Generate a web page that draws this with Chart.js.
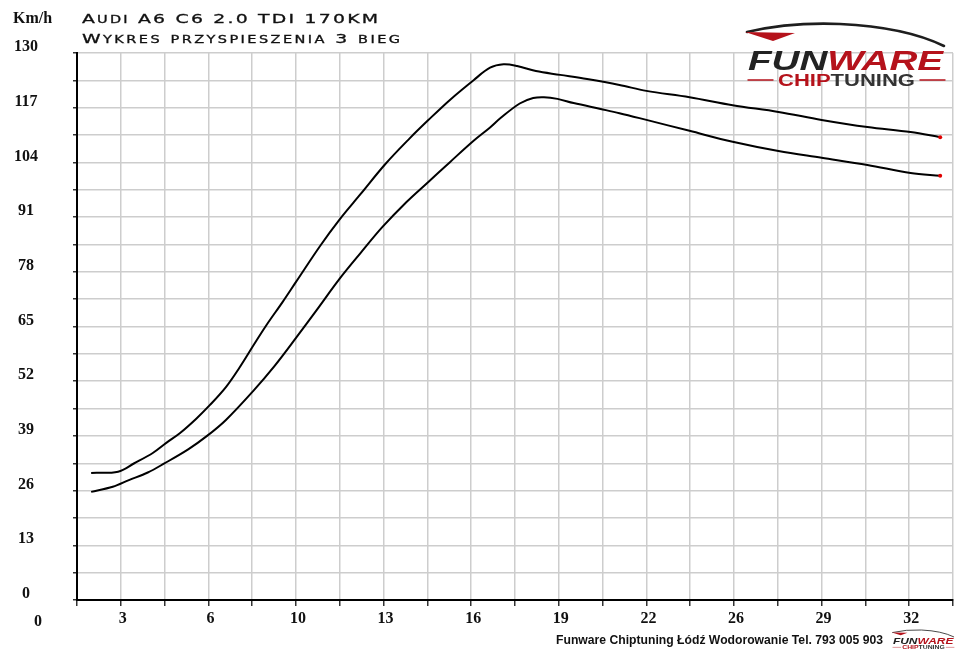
<!DOCTYPE html>
<html>
<head>
<meta charset="utf-8">
<script src="https://cdn.jsdelivr.net/npm/chart.js@4.4.1/dist/chart.umd.min.js"></script>
<style>
html, body { margin: 0; padding: 0; background: #fff; }
#wrap { width: 960px; height: 654px; }
</style>
</head>
<body>
<div id="wrap"><canvas id="chart" width="960" height="654"></canvas></div>
<script>
// Audi A6 C6 2.0 TDI 170KM - acceleration chart, 3rd gear

// Upper curve (after tuning): time [s] / speed [km/h]
const tunedTime = [1.9, 2.9, 3.5, 4.2, 4.7, 5.2, 5.8, 6.3, 6.9, 7.4, 7.9, 8.4, 9.0, 9.5, 10.4, 11.1, 11.9, 12.8, 13.7, 14.4, 15.2, 16.1, 16.7, 17.2, 17.7, 18.4, 19.3, 20.3, 21.5, 22.5, 24.1, 25.7, 27.4, 29.0, 30.7, 32.3, 33.4];
const tunedSpeed = [30.2, 30.5, 32.5, 35.0, 37.4, 39.7, 43.1, 46.3, 50.6, 55.2, 60.3, 65.3, 70.8, 75.6, 84.2, 90.3, 96.5, 103.5, 109.6, 114.0, 118.8, 123.6, 126.5, 127.3, 126.9, 125.7, 124.8, 123.8, 122.4, 121.0, 119.5, 117.6, 116.0, 114.1, 112.4, 111.2, 110.0];

// Lower curve (stock)
const stockTime = [1.9, 2.7, 3.3, 4.0, 4.6, 5.5, 6.2, 6.9, 7.9, 8.7, 9.5, 10.3, 11.1, 11.9, 12.7, 13.6, 14.4, 15.2, 16.1, 16.7, 17.1, 17.8, 18.3, 18.7, 19.2, 19.8, 20.8, 21.5, 22.5, 24.1, 25.7, 27.4, 29.0, 30.7, 32.3, 33.4];
const stockSpeed = [25.7, 26.9, 28.5, 30.3, 32.4, 35.8, 39.0, 42.8, 49.6, 55.6, 62.3, 69.2, 76.2, 82.5, 88.6, 94.6, 99.3, 104.0, 109.2, 112.3, 114.6, 118.0, 119.3, 119.5, 119.1, 118.1, 116.7, 115.7, 114.1, 111.5, 108.9, 106.7, 105.1, 103.4, 101.5, 100.8];

// Axis labels
const xTickLabels = ['3', '6', '10', '13', '16', '19', '22', '26', '29', '32'];
const yTickLabels = ['0', '13', '26', '39', '52', '65', '78', '91', '104', '117', '130'];
const xOriginLabel = '0';
const yUnitLabel = 'Km/h';

// x axis: 20 grid columns, a label on every second line
const X_START = 1.375;
const X_STEP = 1.625;
const X_LINES = 20;

const titleLine1 = 'Audi A6 C6 2.0 TDI 170KM';
const titleLine2 = 'Wykres przyspieszenia 3 bieg';
const footerText = 'Funware Chiptuning Łódź Wodorowanie Tel. 793 005 903';

const LABEL_FONT = '"Liberation Serif", "Times New Roman", serif';
const RED = '#b5121b';

// Small caps text, letters widened, stretched to a given width
function drawSmallCaps(ctx, text, x, baseline, width, bigSize, smallSize) {
    const stretch = 1.45;
    const parts = [...text].map(ch => {
        const small = ch !== ch.toUpperCase();
        return { ch: ch.toUpperCase(), font: (small ? smallSize : bigSize) + 'px "DejaVu Sans"' };
    });
    let total = 0;
    parts.forEach(p => {
        ctx.font = p.font;
        p.w = ctx.measureText(p.ch).width * stretch;
        total += p.w;
    });
    const gap = (width - total) / (parts.length - 1);
    let cx = x;
    ctx.strokeStyle = ctx.fillStyle;
    ctx.lineWidth = 0.3;
    parts.forEach(p => {
        ctx.font = p.font;
        ctx.save();
        ctx.translate(cx, baseline);
        ctx.scale(stretch, 1);
        ctx.fillText(p.ch, 0, 0);
        ctx.strokeText(p.ch, 0, 0);
        ctx.restore();
        cx += p.w + gap;
    });
}

// Two-colour word squeezed to a width (used for the logo)
function drawTwoTone(ctx, first, second, x, baseline, width, colors) {
    const w1 = ctx.measureText(first).width;
    const w = ctx.measureText(first + second).width;
    ctx.save();
    ctx.translate(x, baseline);
    ctx.scale(width / w, 1);
    ctx.fillStyle = colors[0];
    ctx.fillText(first, 0, 0);
    ctx.fillStyle = colors[1];
    ctx.fillText(second, w1, 0);
    ctx.restore();
}

function drawLogo(ctx, x, y, s) {
    // x, y = top-left, s = scale (1 = big logo)
    ctx.save();
    ctx.translate(x, y);
    ctx.scale(s, s);

    // car silhouette
    ctx.strokeStyle = '#1e1e1e';
    ctx.lineWidth = 2.6;
    ctx.lineCap = 'round';
    ctx.beginPath();
    ctx.moveTo(2, 8);
    ctx.quadraticCurveTo(45, -2, 95, 0);
    ctx.quadraticCurveTo(160, 3, 199, 22);
    ctx.stroke();
    ctx.fillStyle = RED;
    ctx.beginPath();
    ctx.moveTo(0, 8);
    ctx.lineTo(50, 9);
    ctx.lineTo(28, 17);
    ctx.closePath();
    ctx.fill();

    // FUNWARE
    ctx.font = 'italic bold 28px "Liberation Sans", Arial, sans-serif';
    ctx.textBaseline = 'alphabetic';
    drawTwoTone(ctx, 'FUN', 'WARE', 3, 46, 195, ['#222222', RED]);

    // CHIPTUNING with side lines
    ctx.font = 'bold 16px "Liberation Sans", Arial, sans-serif';
    drawTwoTone(ctx, 'CHIP', 'TUNING', 33, 62, 137, [RED, '#333333']);
    ctx.strokeStyle = RED;
    ctx.lineWidth = 1.4;
    ctx.beginPath();
    ctx.moveTo(3, 56); ctx.lineTo(28, 56);
    ctx.moveTo(175, 56); ctx.lineTo(200, 56);
    ctx.stroke();
    ctx.restore();
}

const decorPlugin = {
    id: 'decor',
    afterDraw(chart) {
        const ctx = chart.ctx;
        ctx.save();
        ctx.fillStyle = '#111';
        ctx.textBaseline = 'alphabetic';

        // unit label
        ctx.font = 'bold 16px ' + LABEL_FONT;
        ctx.textAlign = 'left';
        ctx.fillText(yUnitLabel, 13, 23);

        // origin label on the x axis
        ctx.textAlign = 'center';
        ctx.fillText(xOriginLabel, 38, 626);

        // title
        ctx.textAlign = 'left';
        ctx.fillStyle = '#111';
        drawSmallCaps(ctx, titleLine1, 82, 23, 296, 13, 10);
        drawSmallCaps(ctx, titleLine2, 82, 43, 318, 13, 10);

        // footer
        ctx.font = 'bold 12px "Liberation Sans", Arial, sans-serif';
        const fw = ctx.measureText(footerText).width;
        ctx.save();
        ctx.translate(556, 644);
        ctx.scale(327 / fw, 1);
        ctx.fillStyle = '#111';
        ctx.fillText(footerText, 0, 0);
        ctx.restore();

        ctx.restore();

        drawLogo(ctx, 745, 24, 1);
        drawLogo(ctx, 892, 630, 0.31);
    }
};

function makeSeries(times, speeds) {
    return times.map((t, i) => ({ x: t, y: speeds[i] }));
}

function lineDataset(label, times, speeds) {
    const last = times.length - 1;
    return {
        label: label,
        data: makeSeries(times, speeds),
        borderColor: '#000',
        borderWidth: 2,
        fill: false,
        tension: 0.35,
        pointRadius: ctx => ctx.dataIndex === last ? 2 : 0,
        pointBackgroundColor: '#e00000',
        pointBorderWidth: 0
    };
}

const ctx = document.getElementById('chart');

new Chart(ctx, {
    type: 'line',
    data: {
        datasets: [
            lineDataset('Po tuningu', tunedTime, tunedSpeed),
            lineDataset('Seria', stockTime, stockSpeed)
        ]
    },
    options: {
        responsive: false,
        animation: false,
        layout: { padding: { top: 53, right: 7, left: 0, bottom: 0 } },
        plugins: {
            legend: { display: false },
            tooltip: { enabled: false }
        },
        scales: {
            x: {
                type: 'linear',
                min: X_START,
                max: X_START + X_STEP * X_LINES,
                afterBuildTicks: scale => {
                    scale.ticks = Array.from({ length: X_LINES + 1 }, (_, i) => ({ value: X_START + i * X_STEP }));
                },
                afterFit: scale => { scale.height = 54; },
                grid: { color: '#cdcdcd', lineWidth: 1.5, tickColor: '#333', tickLength: 6, tickWidth: 1.5 },
                border: { color: '#000', width: 2 },
                ticks: {
                    autoSkip: false,
                    maxRotation: 0,
                    padding: 3,
                    labelOffset: 2,
                    color: '#111',
                    font: { family: LABEL_FONT, size: 16, weight: 'bold' },
                    callback: (value, index) => index % 2 === 1 ? xTickLabels[(index - 1) / 2] : ''
                }
            },
            y: {
                min: 0,
                max: 130,
                afterFit: scale => { scale.width = 77; },
                grid: { color: '#cdcdcd', lineWidth: 1.5, tickColor: '#333', tickLength: 4, tickWidth: 1.5 },
                border: { color: '#000', width: 2 },
                ticks: {
                    stepSize: 6.5,
                    autoSkip: false,
                    crossAlign: 'center',
                    padding: 35,
                    labelOffset: -6,
                    color: '#111',
                    font: { family: LABEL_FONT, size: 16, weight: 'bold' },
                    callback: (value, index) => index % 2 === 0 ? yTickLabels[index / 2] : ''
                }
            }
        }
    },
    plugins: [decorPlugin]
});
</script>
</body>
</html>
